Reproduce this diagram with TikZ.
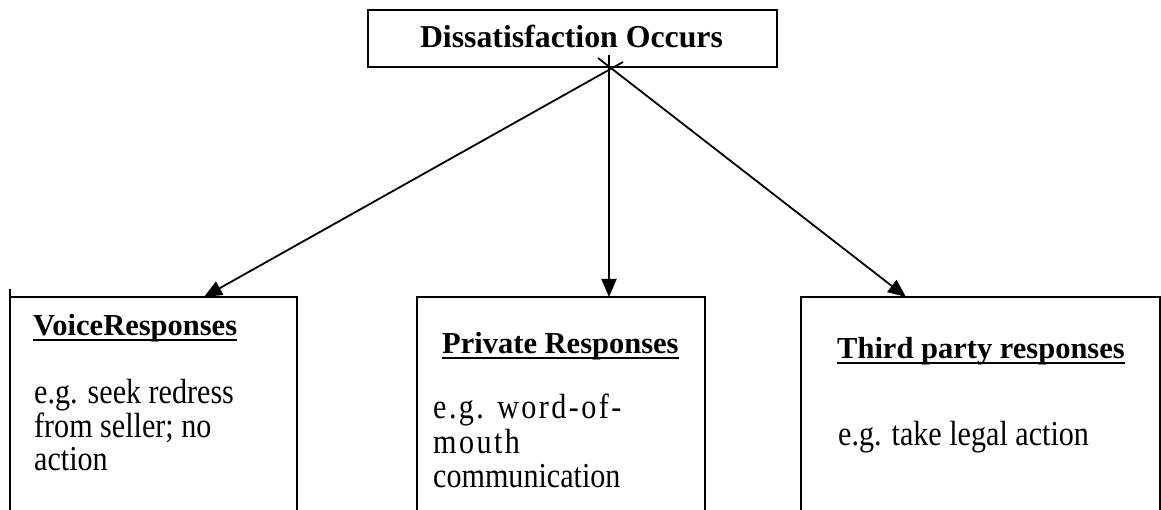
\documentclass[tikz,border=0pt]{standalone}
\usepackage{fontspec}
\setmainfont{Liberation Serif}
\newfontfamily\bodyfont{Liberation Serif}[FakeStretch=0.86]
\newfontfamily\spacedfont{Liberation Serif}[FakeStretch=0.86,LetterSpace=7]
\usetikzlibrary{arrows.meta}
\begin{document}
\begin{tikzpicture}[x=1pt,y=-1pt,
  boxline/.style={line width=2pt},
  conn/.style={line width=1.8pt,-{Triangle[length=18pt,width=15pt]}},
  titletext/.style={inner sep=0pt,anchor=base west,font=\fontsize{30.5}{34}\selectfont\bfseries},
  bodytext/.style={inner sep=0pt,anchor=base west,font=\fontsize{35}{34}\bodyfont},
  spacedtext/.style={inner sep=0pt,anchor=base west,font=\fontsize{35}{34}\spacedfont},
  ul/.style={line width=2.8pt}]
\useasboundingbox (0,0) rectangle (1161,510);
\fill[white] (0,0) rectangle (1161,510);
% top box
\node[draw,boxline,minimum width=409pt,minimum height=57pt,inner sep=0pt] (top) at (572.5,38.5) {};
\node[inner sep=0pt,anchor=base,font=\fontsize{31.8}{34}\selectfont\bfseries] (toptext) at (571.5,48) {Dissatisfaction Occurs};
% bottom boxes (open at the bottom)
\draw[boxline] (10,514) -- (10,289) (10,297) -- (297,297) -- (297,514);
\draw[boxline] (417,514) -- (417,297) -- (705,297) -- (705,514);
\draw[boxline] (801,514) -- (801,297) -- (1160,297) -- (1160,514);
\coordinate (leftin) at (204,297);
\coordinate (midin) at (609,297);
\coordinate (rightin) at (906,297);
\coordinate (lstart) at (623,62);
\coordinate (mstart) at (609,55);
\coordinate (rstart) at (598,58);
\draw[conn] (lstart) -- (leftin);
\draw[conn] (mstart) -- (midin);
\draw[conn] (rstart) -- (rightin);
% left box text
\node[titletext] (t1) at (33,335) {VoiceResponses};
\draw[ul] ([yshift=-5pt]t1.base west) -- ([yshift=-5pt]t1.base east);
\node[bodytext] (b1a) at (34,403) {e.g. seek redress};
\node[bodytext] (b1b) at (34,437) {from seller; no};
\node[bodytext] (b1c) at (34,470) {action};
% middle box text
\node[titletext] (t2) at (442,353) {Private Responses};
\draw[ul] ([yshift=-5pt]t2.base west) -- ([yshift=-5pt]t2.base east);
\node[spacedtext] (b2a) at (433,418) {e.g. word-of-};
\node[spacedtext] (b2b) at (433,453) {mouth};
\node[bodytext] (b2c) at (433,487) {communication};
% right box text
\node[titletext] (t3) at (837,358) {Third party responses};
\draw[ul] ([yshift=-5pt]t3.base west) -- ([yshift=-5pt]t3.base east);
\node[bodytext] (b3a) at (838,445) {e.g. take legal action};
\end{tikzpicture}
\end{document}
